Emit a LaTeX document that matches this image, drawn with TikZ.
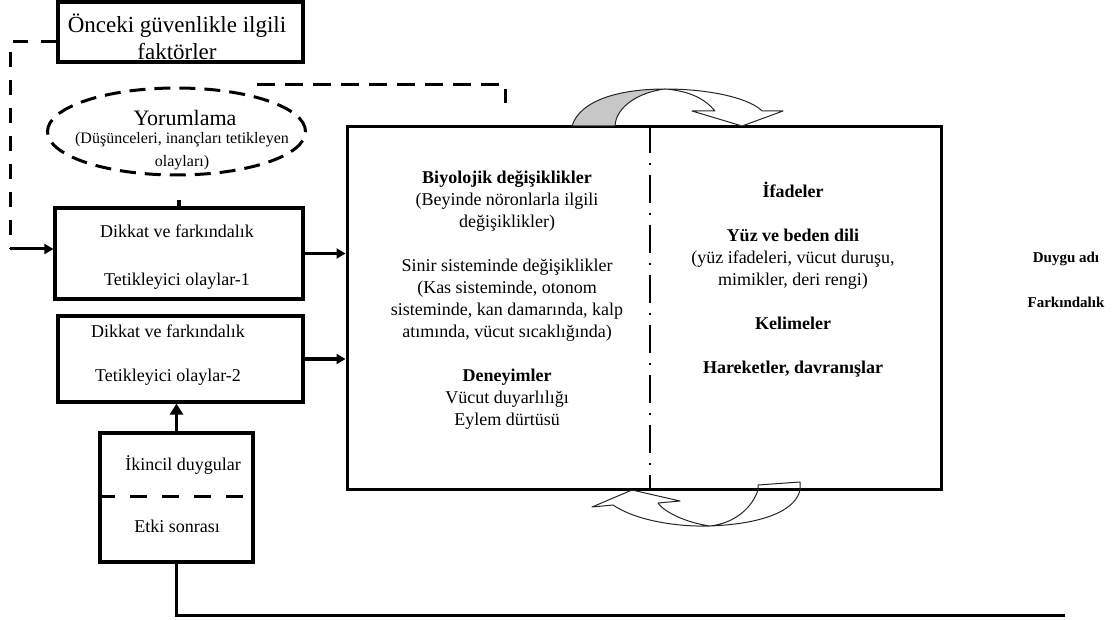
\documentclass[tikz,border=0pt]{standalone}
\usepackage{fontspec}
\setmainfont{Liberation Serif}
\usetikzlibrary{arrows.meta,calc,shapes.geometric}
\begin{document}
\begin{tikzpicture}[x=1pt,y=-1pt,
  box/.style={draw, line width=3.2pt, inner sep=0pt},
  tx/.style={align=center, inner sep=0pt, font=\fontsize{18}{22}\selectfont},
  arr/.style={line width=3pt, -{Triangle[length=9pt,width=10pt]}},
  dsh/.style={line width=3pt, dash pattern=on 15pt off 13pt},
  ribbon/.style={draw=black!85, line width=1pt, line join=round}]
\useasboundingbox (0,0) rectangle (1114,620);

% top box
\node[box, minimum width=245pt, minimum height=60pt] (tb) at (180.5,32) {};
\node[tx, font=\fontsize{23}{27}\selectfont] (tbt) at (177,36.5) {Önceki güvenlikle ilgili\\faktörler};

% ellipse
\node[draw, ellipse, line width=3pt, dash pattern=on 16pt off 9pt, minimum width=258pt, minimum height=87pt, inner sep=0pt] (ell) at (176.5,131.5) {};
\node[tx, font=\fontsize{22}{26}\selectfont] (ellt1) at (185,118) {Yorumlama};
\node[tx, font=\fontsize{16}{23}\selectfont] (ellt2) at (182,151.5) {(Düşünceleri, inançları tetikleyen\\olayları)};

% box 1
\node[box, minimum width=248pt, minimum height=91pt] (b1) at (179,253.5) {};
\node[tx] (b1t) at (177,257) {Dikkat ve farkındalık\\[26pt]Tetikleyici olaylar-1};

% box 2
\node[box, minimum width=245pt, minimum height=86pt] (b2) at (180.5,359) {};
\node[tx] (b2t) at (168,355) {Dikkat ve farkındalık\\[22pt]Tetikleyici olaylar-2};

% box 3
\node[box, minimum width=153pt, minimum height=129pt] (b3) at (176.5,497.5) {};
\coordinate (m3) at (0,496);
\draw[line width=3pt, dash pattern=on 17pt off 15pt] (b3.west |- m3) -- (b3.east |- m3);
\node[tx] (b3t1) at (183,465) {İkincil duygular};
\node[tx] (b3t2) at (177,526) {Etki sonrası};

% big box
\node[box, line width=3pt, minimum width=594pt, minimum height=363pt] (big) at (644,308) {};
\coordinate (dv) at (650,0);
\draw[line width=2pt, dash pattern=on 28pt off 10pt on 2pt off 10pt] (big.north -| dv) -- (big.south -| dv);

\node[tx] (lt) at (507,300) {\textbf{Biyolojik değişiklikler}\\(Beyinde nöronlarla ilgili\\değişiklikler)\\[22pt]Sinir sisteminde değişiklikler\\(Kas sisteminde, otonom\\sisteminde, kan damarında, kalp\\atımında, vücut sıcaklığında)\\[22pt]\textbf{Deneyimler}\\Vücut duyarlılığı\\Eylem dürtüsü};

\node[tx] (rt) at (793,280) {\textbf{İfadeler}\\[22pt]\textbf{Yüz ve beden dili}\\(yüz ifadeleri, vücut duruşu,\\mimikler, deri rengi)\\[22pt]\textbf{Kelimeler}\\[22pt]\textbf{Hareketler, davranışlar}};

\node[tx, font=\fontsize{15}{22.5}\selectfont\bfseries] (rr) at (1066,279.5) {Duygu adı\\[22.5pt]Farkındalık};

% connectors
\coordinate (c1) at (58,42);
\coordinate (c2) at (10,249);
\draw[dsh] (tb.west |- c1) -- (c2 |- c1) -- (c2);
\draw[arr] (c2) -- (c2 -| b1.west);

\coordinate (e1) at (257,85);
\coordinate (e2) at (505,103);
\draw[line width=3pt, dash pattern=on 18pt off 10pt] (e1) -| (e2);

\draw[line width=3.5pt] (b1.north) -- ++(0,-6);

\draw[arr] (b1.east) -- (b1.east -| big.west);
\draw[arr] (b2.east) -- (b2.east -| big.west);
\draw[line width=3.2pt, -{Triangle[length=11pt,width=13pt]}] (b3.north) -- (b3.north |- b2.south);
\coordinate (f1) at (1065,615);
\draw[line width=3pt] (b3.south) -- (b3.south |- f1) -- (f1);

% top curved arrow
\draw[ribbon, fill=black!22] (572,126) .. controls (580,100) and (620,89) .. (665,89) .. controls (640,92) and (616,106) .. (615,126) -- cycle;
\draw[ribbon, fill=white] (665,89) .. controls (715,89) and (752,100) .. (762,111) -- (783,111) -- (742,126) -- (692,111) -- (715,111) .. controls (705,99) and (690,91) .. (665,89) -- cycle;

% bottom curved arrow
\draw[ribbon] (632,490) -- (592,507) -- (613,505) .. controls (635,520) and (675,527) .. (710,526) .. controls (760,524) and (795,512) .. (800,490) -- (800,482) -- (758,485) -- (758,490) .. controls (752,508) and (735,523) .. (710,526) .. controls (688,523) and (665,513) .. (658,503) -- (680,501) -- cycle;
\end{tikzpicture}
\end{document}
